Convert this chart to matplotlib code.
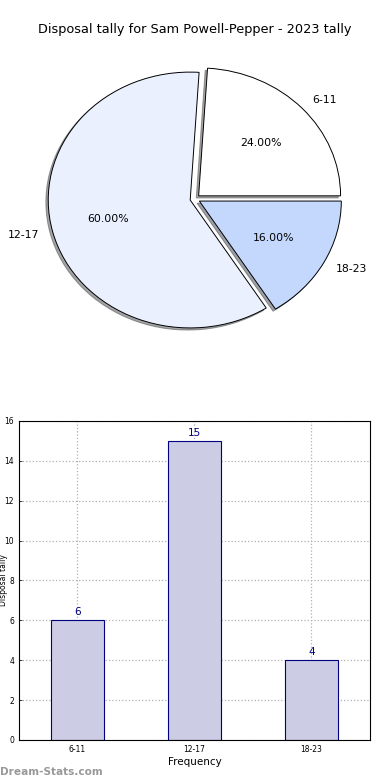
import matplotlib
matplotlib.use('Agg')
import matplotlib.pyplot as plt

# data
categories = ['6-11', '12-17', '18-23']
counts = [6, 15, 4]
pie_colors = ['#ffffff', '#eaf0fe', '#c4d8fe']
player = 'Sam Powell-Pepper'
season = '2023'

fig = plt.figure(figsize=(3.9, 7.8), dpi=100)
fig.text(0.5, 1 - 30 / 780, 'Disposal tally for {} - {} tally'.format(player, season),
         ha='center', va='center', fontsize=9.3)

# pie (old style, not forced to equal aspect)
ax1 = fig.add_axes([0.045, 0.540, 0.910, 0.410])
ax1.pie(counts, labels=categories, colors=pie_colors, autopct='%1.2f%%',
        explode=[0.035] * len(counts), shadow={'ox': -0.012, 'oy': -0.012},
        startangle=0,
        wedgeprops={'edgecolor': 'black', 'linewidth': 0.7},
        textprops={'fontsize': 7.8})
ax1.set_aspect('auto')
ax1.set_xlim(-1.25, 1.25)
ax1.set_ylim(-1.25, 1.25)

# bar chart
ax2 = fig.add_axes([0.0487, 0.0513, 0.900, 0.409])
x = range(len(categories))
bars = ax2.bar(x, counts, width=0.45, color='#ccccE5', edgecolor='#000080', linewidth=0.8,
               zorder=2)
for b, v in zip(bars, counts):
    ax2.text(b.get_x() + b.get_width() / 2, v + 0.15, str(v), ha='center', va='bottom',
             color='#000080', fontsize=7.5)
ax2.set_xlim(-0.5, len(categories) - 0.5)
ax2.set_ylim(0, 16)
ax2.set_yticks(range(0, 17, 2))
ax2.set_xticks(list(x))
ax2.set_xticklabels(categories)
ax2.tick_params(labelsize=5.5, direction='in', length=2, width=0.5)
ax2.grid(True, linestyle=':', color='#b0b0b0', linewidth=0.9, zorder=0)
ax2.set_xlabel('Frequency', fontsize=7.5, labelpad=2)
for s in ax2.spines.values():
    s.set_linewidth(0.8)
fig.text(4 / 390, (780 - 580) / 780, 'Disposal tally',
         rotation=90, ha='center', va='center', fontsize=5.5)

fig.text(0.0, 8 / 780, 'Dream-Stats.com', ha='left', va='center', fontsize=7.6,
         color='#999999', fontweight='bold')

fig.savefig('out.png', dpi=100)
